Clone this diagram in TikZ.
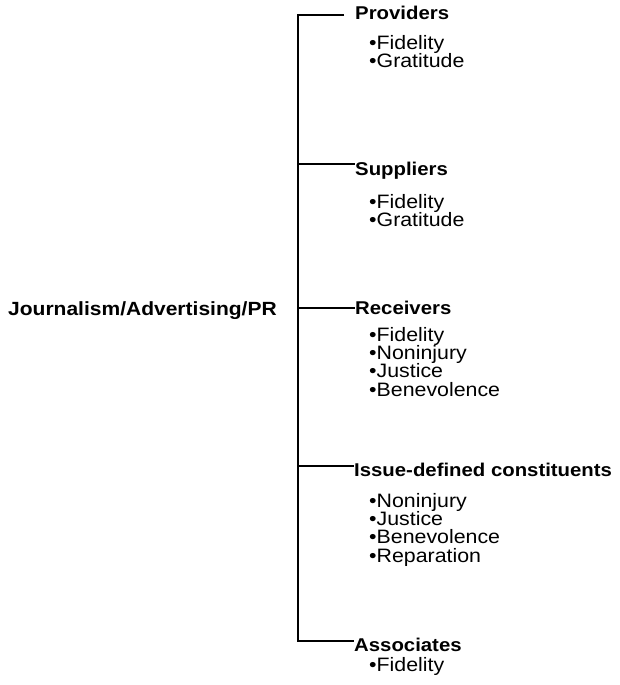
\documentclass[tikz,border=0pt]{standalone}
\usepackage{fontspec}
\setmainfont{Liberation Sans}
\newfontfamily\widesans[FakeStretch=1.1]{Liberation Sans}
\begin{document}
\begin{tikzpicture}[x=1pt,y=-1pt,
  head/.style={anchor=base west,inner sep=0pt,font=\widesans\fontsize{18.5}{18.5}\selectfont\bfseries},
  item/.style={anchor=base west,inner sep=0pt,align=left,font=\widesans\fontsize{19.4}{18.4}\selectfont},
  conn/.style={line width=1.6pt}]
\useasboundingbox (0,0) rectangle (620,685);
\node[head,font=\widesans\fontsize{19.1}{19}\selectfont\bfseries] (root) at (8,315) {Journalism/Advertising/PR};
\coordinate (top) at (298,15);
\coordinate (bot) at (298,641);
\coordinate (jprov) at (344,15);
\node[head] (prov) at (355,19.5) {Providers};
\node[head] (supp) at (355,175) {Suppliers};
\node[head] (recv) at (355,314) {Receivers};
\node[head] (issue) at (354,476) {Issue-defined constituents};
\node[head] (assoc) at (354,651) {Associates};
% base anchor of a multi-line node lies on its last line
\node[item] (provi) at (369,67.4) {•Fidelity\\•Gratitude};
\node[item] (suppi) at (369,226.4) {•Fidelity\\•Gratitude};
\node[item] (recvi) at (369,396.2) {•Fidelity\\•Noninjury\\•Justice\\•Benevolence};
\node[item] (issuei) at (369,562.2) {•Noninjury\\•Justice\\•Benevolence\\•Reparation};
\node[item] (associ) at (369,671) {•Fidelity};
\draw[conn] (jprov) -- (top) -- (bot) -- (bot -| assoc.west);
\draw[conn] (298,164) -- (298,164 -| supp.west);
\draw[conn] (298,308) -- (298,308 -| recv.west);
\draw[conn] (298,466) -- (298,466 -| issue.west);
\end{tikzpicture}
\end{document}
